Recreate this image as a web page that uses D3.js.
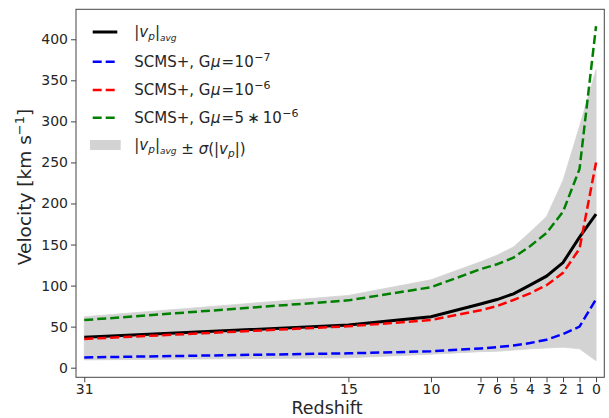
<!DOCTYPE html>
<html><head><meta charset="utf-8">
<script src="https://cdn.jsdelivr.net/npm/d3@7"></script>
<style>
body{margin:0;background:#fff}
text{font-family:"DejaVu Sans",sans-serif;fill:#262626}
</style>
</head><body>
<svg id="c" width="609" height="418"></svg>
<script>
const redshift  = [31, 15, 10, 7, 6, 5, 4, 3, 2, 1, 0];
const vAvg      = [37, 52, 62, 77.5, 83, 90, 100.5, 111.5, 128, 159, 187];
const vGmu1e7   = [12.5, 17.5, 20, 23.5, 25, 27, 30, 34, 41, 50, 83.5];
const vGmu1e6   = [35, 50.5, 58, 70, 75, 82.5, 90.5, 100.5, 115.5, 145, 250];
const vGmu5e6   = [58, 82, 98, 120, 126, 134, 148, 164, 190, 242, 416];
const bandUpper = [62, 88, 107, 129, 137, 147, 165, 184, 228, 294, 363];
const bandLower = [9.5, 12, 16.5, 19.5, 20, 21.5, 23, 24, 25, 23, 8.5];
const xTickVals = [31, 15, 10, 7, 6, 5, 4, 3, 2, 1, 0];
const yTickVals = [0, 50, 100, 150, 200, 250, 300, 350, 400];

const svg = d3.select("#c");
const L = 76, R = 604.3, T = 9.3, B = 377.3;
const x = d3.scaleLinear().domain([31.5, -0.5]).range([L, R]);
const y = d3.scaleLinear().domain([-11.7, 436.5]).range([B, T]);

const idx = d3.range(redshift.length);

// band
svg.append("path")
  .attr("d", d3.area().x(i => x(redshift[i])).y0(i => y(bandLower[i])).y1(i => y(bandUpper[i]))(idx))
  .attr("fill", "#d3d3d3").attr("stroke", "#d3d3d3").attr("stroke-width", 0.8);

const line = arr => d3.line().x(i => x(redshift[i])).y(i => y(arr[i]))(idx);
svg.append("path").attr("d", line(vAvg)).attr("fill", "none")
  .attr("stroke", "#000").attr("stroke-width", 3);
const series = [[vGmu1e7, "#0000ff"], [vGmu1e6, "#ff0000"], [vGmu5e6, "#008000"]];
series.forEach(([arr, c]) => {
  svg.append("path").attr("d", line(arr)).attr("fill", "none")
    .attr("stroke", c).attr("stroke-width", 2.5).attr("stroke-dasharray", "9,4");
});

// axes
const xAxis = svg.append("g").attr("transform", `translate(0,${B})`)
  .call(d3.axisBottom(x).tickValues(xTickVals).tickFormat(d3.format("d")).tickSize(5).tickSizeOuter(0).tickPadding(2));
const yAxis = svg.append("g").attr("transform", `translate(${L},0)`)
  .call(d3.axisLeft(y).tickValues(yTickVals).tickFormat(d3.format("d")).tickSize(5).tickSizeOuter(0).tickPadding(3));
[xAxis, yAxis].forEach(g => {
  g.select(".domain").remove();
  g.selectAll("line").attr("stroke", "#444").attr("stroke-width", 1);
  g.selectAll("text").attr("font-size", 14).attr("fill", "#262626").style("font-family", '"DejaVu Sans",sans-serif');
});
// frame
svg.append("rect").attr("x", L).attr("y", T).attr("width", R - L).attr("height", B - T)
  .attr("fill", "none").attr("stroke", "#444").attr("stroke-width", 1);

// axis labels
svg.append("text").attr("x", 327).attr("y", 413.8).attr("text-anchor", "middle")
  .attr("font-size", 17.5).text("Redshift");
const yl = svg.append("text").attr("transform", "translate(31,187) rotate(-90)")
  .attr("text-anchor", "middle").attr("font-size", 18.5);
yl.append("tspan").text("Velocity [km s");
yl.append("tspan").attr("font-size", 13).attr("dy", -7).text("\u22121");
yl.append("tspan").attr("dy", 7).text("]");

// legend
const leg = svg.append("g");
const rows = [32, 61.7, 90, 117.7, 145];
const tx = 134.3, fs = 15;
leg.append("line").attr("x1", 92.7).attr("x2", 117.3).attr("y1", rows[0]).attr("y2", rows[0])
  .attr("stroke", "#000").attr("stroke-width", 3);
series.forEach(([arr, c], k) => {
  leg.append("line").attr("x1", 92.7).attr("x2", 117.3).attr("y1", rows[k + 1]).attr("y2", rows[k + 1])
    .attr("stroke", c).attr("stroke-width", 2.5).attr("stroke-dasharray", "9,4");
});
leg.append("rect").attr("x", 90).attr("y", rows[4] - 5).attr("width", 30.7).attr("height", 10).attr("fill", "#d3d3d3");

function vpAvg(t) {
  t.append("tspan").text("|");
  t.append("tspan").attr("font-style", "italic").text("v");
  t.append("tspan").attr("font-style", "italic").attr("font-size", 10.5).attr("dy", 3).text("p");
  t.append("tspan").attr("dy", -3).text("|");
  t.append("tspan").attr("font-style", "italic").attr("font-size", 9).attr("dy", 4).text("avg");
  t.append("tspan").attr("dy", -4).text("");
}
let t0 = leg.append("text").attr("x", tx).attr("y", rows[0] + 5).attr("font-size", fs);
vpAvg(t0);
const gm = ["\u22127", "\u22126", "\u22126"];
const pre = ["10", "10", "5\u2009\u2217\u200910"];
[1, 2, 3].forEach((r, k) => {
  const t = leg.append("text").attr("x", tx).attr("y", rows[r] + 5).attr("font-size", fs);
  t.append("tspan").text("SCMS+, G");
  t.append("tspan").attr("font-style", "italic").attr("dx", 0.5).text("\u03bc");
  t.append("tspan").attr("dx", 1).text("=");
  t.append("tspan").attr("dx", 0.5).text(pre[k]);
  t.append("tspan").attr("font-size", 11).attr("dy", -6).attr("dx", 0.5).text(gm[k]);
});
let t4 = leg.append("text").attr("x", tx).attr("y", rows[4] + 5).attr("font-size", fs);
vpAvg(t4);
t4.append("tspan").text(" \u00b1 ");
t4.append("tspan").attr("font-style", "italic").text("\u03c3");
t4.append("tspan").text("(|");
t4.append("tspan").attr("font-style", "italic").text("v");
t4.append("tspan").attr("font-style", "italic").attr("font-size", 10.5).attr("dy", 3).text("p");
t4.append("tspan").attr("dy", -3).text("|)");
</script>
</body></html>
